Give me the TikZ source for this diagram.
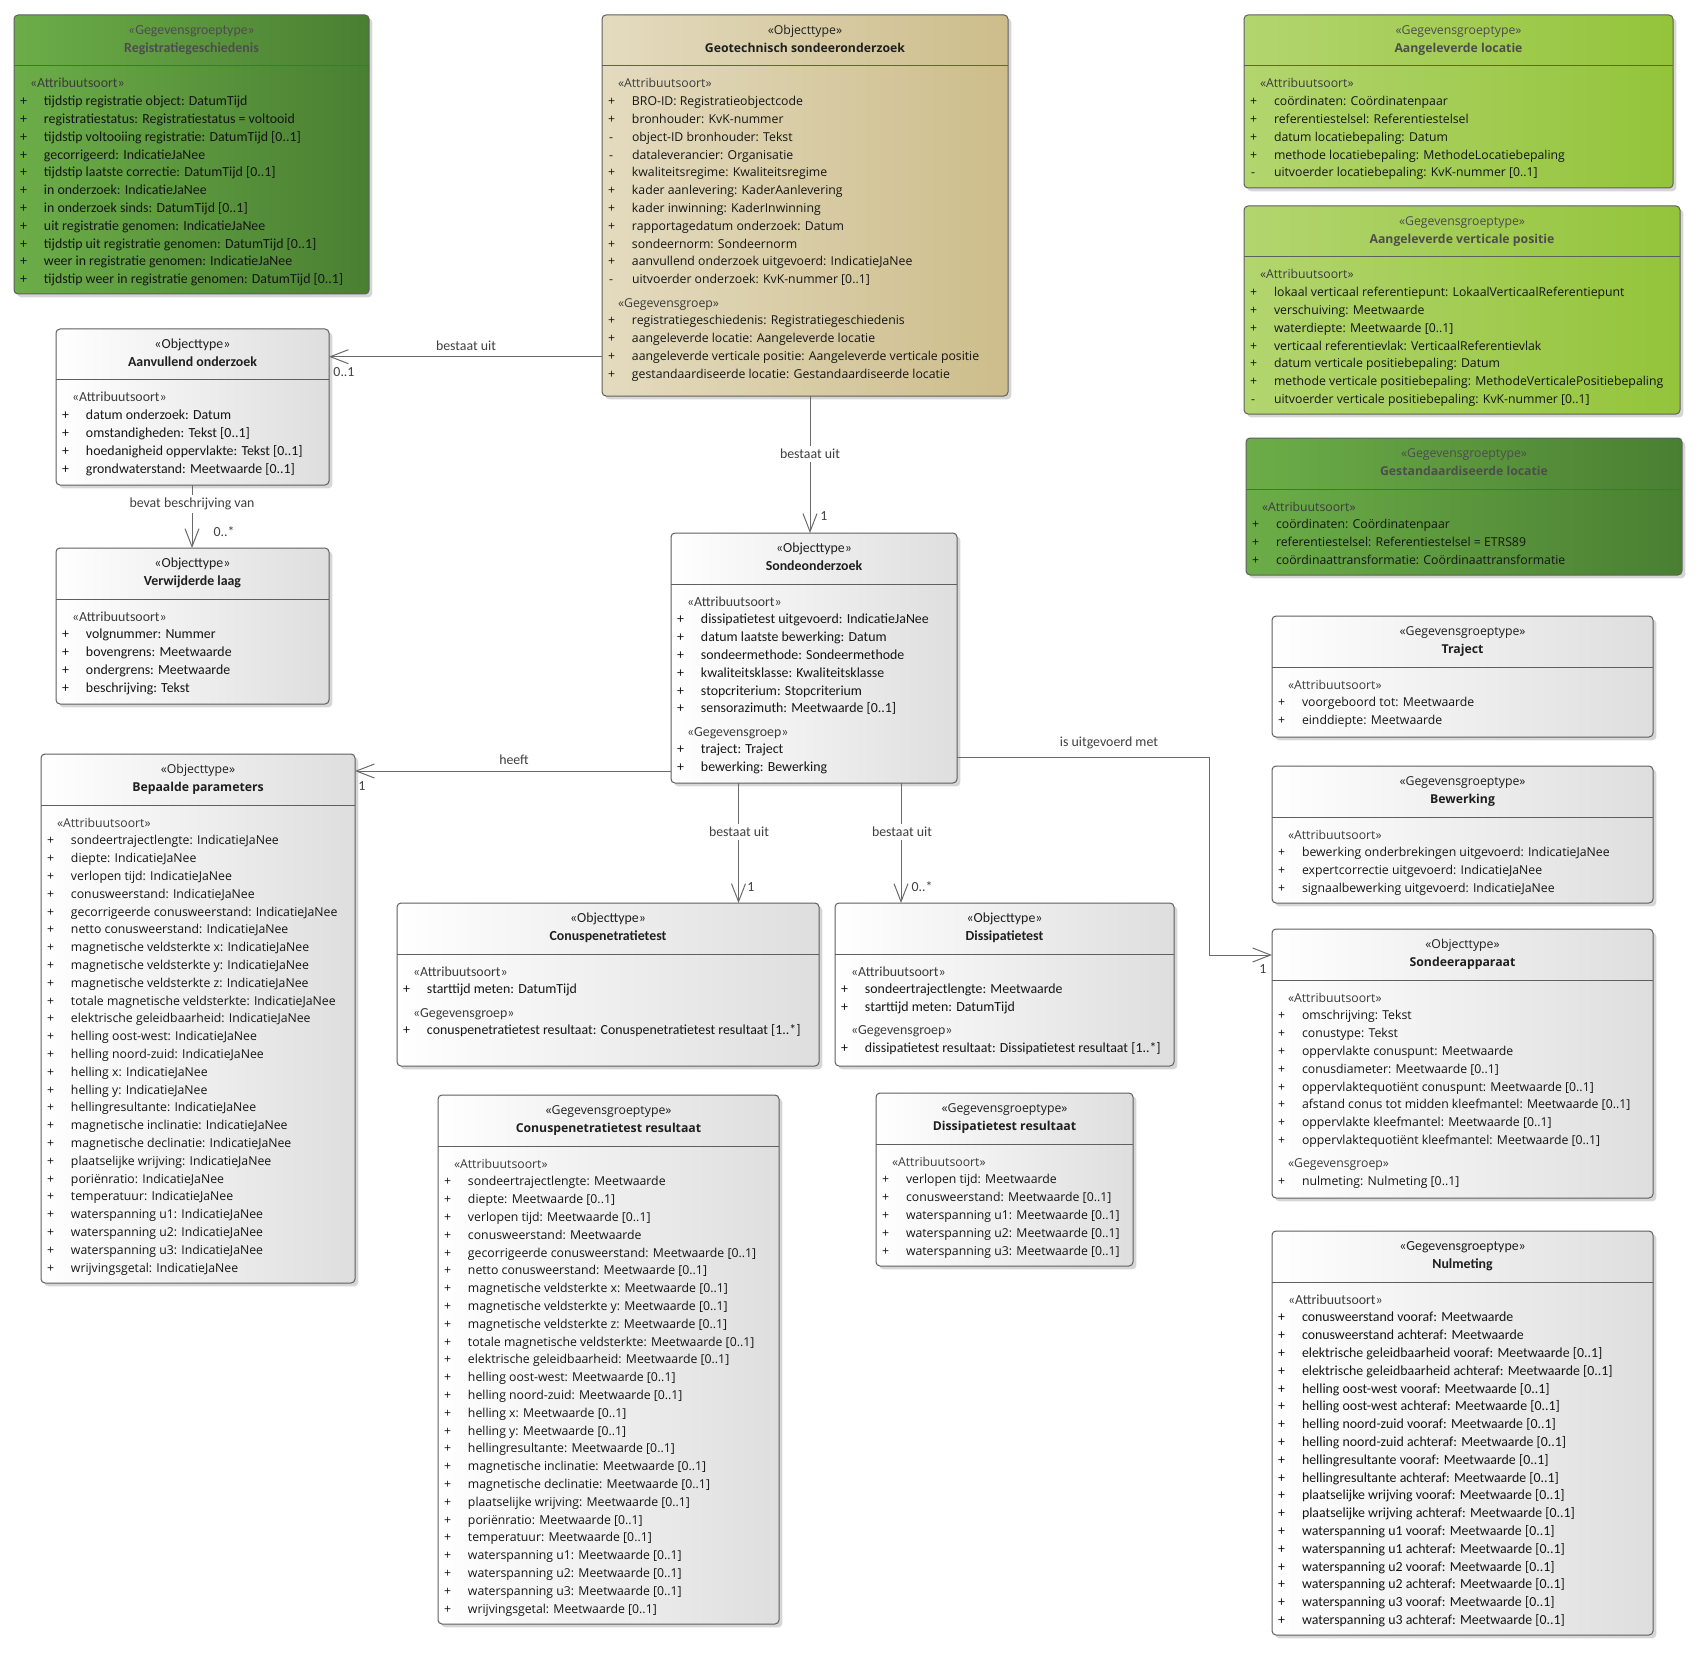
\documentclass[tikz,border=0pt]{standalone}
\usepackage{fontspec}
\setmainfont{Carlito}
\newfontfamily\segf{Open Sans}
\usetikzlibrary{arrows.meta,shadows}
\newdimen\pxu \pxu=0.75pt
\definecolor{bordc}{HTML}{5F5F5F}
\definecolor{linec}{HTML}{6A6A6A}
\definecolor{lblc}{HTML}{404040}
\definecolor{stc}{HTML}{3C3C3C}
\definecolor{bodyc}{HTML}{151515}
\definecolor{gAl}{HTML}{6CAD48}
\definecolor{gAr}{HTML}{4A7F32}
\definecolor{gBl}{HTML}{B3D56F}
\definecolor{gBr}{HTML}{93C43A}
\definecolor{tnl}{HTML}{E4DBBF}
\definecolor{tnr}{HTML}{CDBD8B}
\definecolor{wr}{HTML}{DEDEDE}
\definecolor{hdg}{HTML}{4D4D4D}
\newcommand\fcal{\fontsize{10.4}{12}\selectfont}
\newcommand\fseg{\segf\fontsize{9.2}{12}\selectfont}
\newcommand\PL[1]{\hbox{\hbox to 24\pxu{+\hfil}#1}}
\newcommand\MI[1]{\hbox{\hbox to 24\pxu{\kern1\pxu-\hfil}#1}}
\newcommand\ST[1]{\hbox{\kern10\pxu{\color{stc}«#1»}}}
\newcommand\GAP{\vskip5.5\pxu}
\newcommand\BODY[1]{\vtop{\baselineskip=17.8\pxu\lineskiplimit=-100pt\lineskip=0pt #1}}
\newcommand\HDR[2]{\vtop{\baselineskip=18\pxu\lineskiplimit=-100pt\lineskip=0pt\halign{\hfil##\hfil\cr«#1»\cr\textbf{#2}\cr}}}
\tikzset{
  umlbox/.style={draw=bordc,line width=0.75pt,rounded corners=3pt,inner sep=0pt,outer sep=0pt,
    drop shadow={shadow xshift=2.5pt,shadow yshift=-2.5pt,fill=black,opacity=0.16}},
  g1box/.style={left color=gAl,right color=gAr},
  g2box/.style={left color=gBl,right color=gBr},
  tanbox/.style={left color=tnl,right color=tnr},
  whbox/.style={left color=white,right color=wr},
  divl/.style={draw=bordc,line width=0.75pt},
  txt/.style={inner sep=0pt,outer sep=0pt,text=bodyc},
  cal/.style={font=\fcal},
  seg/.style={font=\fseg},
  hw/.style={text=black!88},
  hg/.style={text=hdg},
  conn/.style={draw=linec,line width=0.75pt},
  arr/.style={-{Straight Barb[length=13.5pt,width=10.5pt,line width=0.75pt]}},
  lbl/.style={font=\fcal,text=lblc,inner sep=1pt},
  onl/.style={fill=white,inner ysep=2pt}
}
\newcommand\UML[9]{%
  \node[umlbox,#6,minimum width={(#4-#2)*0.75pt},minimum height={(#5-#3)*0.75pt},anchor=north west] (#1) at (#2,#3) {};
  \draw[divl] ([yshift=-51\pxu]#1.north west) -- ([yshift=-51\pxu]#1.north east);
  \node[txt,#7,anchor=base] (#1-h) at ([yshift=-19.5\pxu]#1.north) {\HDR{#8}{#9}};
}
\begin{document}
\begin{tikzpicture}[x=0.75pt,y=-0.75pt]
\fill[white] (0,0) rectangle (1700,1655);
\useasboundingbox (0,0) rectangle (1700,1655);

\UML{reg}{14}{15}{369}{294}{g1box}{cal,hg}{Gegevensgroeptype}{Registratiegeschiedenis}
\UML{geo}{602}{15}{1008}{396}{tanbox}{seg,hw}{Objecttype}{Geotechnisch sondeeronderzoek}
\UML{al}{1244}{15}{1673}{188}{g2box}{seg,hg}{Gegevensgroeptype}{Aangeleverde locatie}
\UML{avp}{1244}{206}{1680}{414}{g2box}{seg,hg}{Gegevensgroeptype}{Aangeleverde verticale positie}
\UML{gl}{1246}{438}{1682}{575}{g1box}{seg,hg}{Gegevensgroeptype}{Gestandaardiseerde locatie}
\UML{ao}{56}{329}{329}{485}{whbox}{cal,hw}{Objecttype}{Aanvullend onderzoek}
\UML{vl}{56}{548}{329}{704}{whbox}{cal,hw}{Objecttype}{Verwijderde laag}
\UML{so}{671}{533}{957}{783}{whbox}{cal,hw}{Objecttype}{Sondeonderzoek}
\UML{bp}{41}{754}{355}{1283}{whbox}{seg,hw}{Objecttype}{Bepaalde parameters}
\UML{cpt}{397}{903}{819}{1066}{whbox}{cal,hw}{Objecttype}{Conuspenetratietest}
\UML{dt}{835}{903}{1174}{1066}{whbox}{cal,hw}{Objecttype}{Dissipatietest}
\UML{cptr}{438}{1095}{779}{1624}{whbox}{seg,hw}{Gegevensgroeptype}{Conuspenetratietest resultaat}
\UML{dtr}{876}{1093}{1133}{1266}{whbox}{seg,hw}{Gegevensgroeptype}{Dissipatietest resultaat}
\UML{tr}{1272}{616}{1653}{737}{whbox}{seg,hw}{Gegevensgroeptype}{Traject}
\UML{bw}{1272}{766}{1653}{903}{whbox}{seg,hw}{Gegevensgroeptype}{Bewerking}
\UML{sa}{1272}{929}{1653}{1198}{whbox}{seg,hw}{Objecttype}{Sondeerapparaat}
\UML{nm}{1272}{1231}{1653}{1635}{whbox}{cal,hw}{Gegevensgroeptype}{Nulmeting}

% bodies
\node[txt,cal,anchor=base west] (reg-b) at ([xshift=6\pxu,yshift=-73\pxu]reg.north west) {\BODY{%
\ST{Attribuutsoort}
\PL{tijdstip registratie object: DatumTijd}
\PL{registratiestatus: Registratiestatus = voltooid}
\PL{tijdstip voltooiing registratie: DatumTijd [0..1]}
\PL{gecorrigeerd: IndicatieJaNee}
\PL{tijdstip laatste correctie: DatumTijd [0..1]}
\PL{in onderzoek: IndicatieJaNee}
\PL{in onderzoek sinds: DatumTijd [0..1]}
\PL{uit registratie genomen: IndicatieJaNee}
\PL{tijdstip uit registratie genomen: DatumTijd [0..1]}
\PL{weer in registratie genomen: IndicatieJaNee}
\PL{tijdstip weer in registratie genomen: DatumTijd [0..1]}}};

\node[txt,seg,anchor=base west] (geo-b) at ([xshift=6\pxu,yshift=-73\pxu]geo.north west) {\BODY{%
\ST{Attribuutsoort}
\PL{BRO-ID: Registratieobjectcode}
\PL{bronhouder: KvK-nummer}
\MI{object-ID bronhouder: Tekst}
\MI{dataleverancier: Organisatie}
\PL{kwaliteitsregime: Kwaliteitsregime}
\PL{kader aanlevering: KaderAanlevering}
\PL{kader inwinning: KaderInwinning}
\PL{rapportagedatum onderzoek: Datum}
\PL{sondeernorm: Sondeernorm}
\PL{aanvullend onderzoek uitgevoerd: IndicatieJaNee}
\MI{uitvoerder onderzoek: KvK-nummer [0..1]}
\GAP
\ST{Gegevensgroep}
\PL{registratiegeschiedenis: Registratiegeschiedenis}
\PL{aangeleverde locatie: Aangeleverde locatie}
\PL{aangeleverde verticale positie: Aangeleverde verticale positie}
\PL{gestandaardiseerde locatie: Gestandaardiseerde locatie}}};

\node[txt,seg,anchor=base west] (al-b) at ([xshift=6\pxu,yshift=-73\pxu]al.north west) {\BODY{%
\ST{Attribuutsoort}
\PL{coördinaten: Coördinatenpaar}
\PL{referentiestelsel: Referentiestelsel}
\PL{datum locatiebepaling: Datum}
\PL{methode locatiebepaling: MethodeLocatiebepaling}
\MI{uitvoerder locatiebepaling: KvK-nummer [0..1]}}};

\node[txt,seg,anchor=base west] (avp-b) at ([xshift=6\pxu,yshift=-73\pxu]avp.north west) {\BODY{%
\ST{Attribuutsoort}
\PL{lokaal verticaal referentiepunt: LokaalVerticaalReferentiepunt}
\PL{verschuiving: Meetwaarde}
\PL{waterdiepte: Meetwaarde [0..1]}
\PL{verticaal referentievlak: VerticaalReferentievlak}
\PL{datum verticale positiebepaling: Datum}
\PL{methode verticale positiebepaling: MethodeVerticalePositiebepaling}
\MI{uitvoerder verticale positiebepaling: KvK-nummer [0..1]}}};

\node[txt,seg,anchor=base west] (gl-b) at ([xshift=6\pxu,yshift=-73\pxu]gl.north west) {\BODY{%
\ST{Attribuutsoort}
\PL{coördinaten: Coördinatenpaar}
\PL{referentiestelsel: Referentiestelsel = ETRS89}
\PL{coördinaattransformatie: Coördinaattransformatie}}};

\node[txt,cal,anchor=base west] (ao-b) at ([xshift=6\pxu,yshift=-73\pxu]ao.north west) {\BODY{%
\ST{Attribuutsoort}
\PL{datum onderzoek: Datum}
\PL{omstandigheden: Tekst [0..1]}
\PL{hoedanigheid oppervlakte: Tekst [0..1]}
\PL{grondwaterstand: Meetwaarde [0..1]}}};

\node[txt,cal,anchor=base west] (vl-b) at ([xshift=6\pxu,yshift=-73\pxu]vl.north west) {\BODY{%
\ST{Attribuutsoort}
\PL{volgnummer: Nummer}
\PL{bovengrens: Meetwaarde}
\PL{ondergrens: Meetwaarde}
\PL{beschrijving: Tekst}}};

\node[txt,cal,anchor=base west] (so-b) at ([xshift=6\pxu,yshift=-73\pxu]so.north west) {\BODY{%
\ST{Attribuutsoort}
\PL{dissipatietest uitgevoerd: IndicatieJaNee}
\PL{datum laatste bewerking: Datum}
\PL{sondeermethode: Sondeermethode}
\PL{kwaliteitsklasse: Kwaliteitsklasse}
\PL{stopcriterium: Stopcriterium}
\PL{sensorazimuth: Meetwaarde [0..1]}
\GAP
\ST{Gegevensgroep}
\PL{traject: Traject}
\PL{bewerking: Bewerking}}};

\node[txt,seg,anchor=base west] (bp-b) at ([xshift=6\pxu,yshift=-73\pxu]bp.north west) {\BODY{%
\ST{Attribuutsoort}
\PL{sondeertrajectlengte: IndicatieJaNee}
\PL{diepte: IndicatieJaNee}
\PL{verlopen tijd: IndicatieJaNee}
\PL{conusweerstand: IndicatieJaNee}
\PL{gecorrigeerde conusweerstand: IndicatieJaNee}
\PL{netto conusweerstand: IndicatieJaNee}
\PL{magnetische veldsterkte x: IndicatieJaNee}
\PL{magnetische veldsterkte y: IndicatieJaNee}
\PL{magnetische veldsterkte z: IndicatieJaNee}
\PL{totale magnetische veldsterkte: IndicatieJaNee}
\PL{elektrische geleidbaarheid: IndicatieJaNee}
\PL{helling oost-west: IndicatieJaNee}
\PL{helling noord-zuid: IndicatieJaNee}
\PL{helling x: IndicatieJaNee}
\PL{helling y: IndicatieJaNee}
\PL{hellingresultante: IndicatieJaNee}
\PL{magnetische inclinatie: IndicatieJaNee}
\PL{magnetische declinatie: IndicatieJaNee}
\PL{plaatselijke wrijving: IndicatieJaNee}
\PL{poriënratio: IndicatieJaNee}
\PL{temperatuur: IndicatieJaNee}
\PL{waterspanning u1: IndicatieJaNee}
\PL{waterspanning u2: IndicatieJaNee}
\PL{waterspanning u3: IndicatieJaNee}
\PL{wrijvingsgetal: IndicatieJaNee}}};

\node[txt,cal,anchor=base west] (cpt-b) at ([xshift=6\pxu,yshift=-73\pxu]cpt.north west) {\BODY{%
\ST{Attribuutsoort}
\PL{starttijd meten: DatumTijd}
\GAP
\ST{Gegevensgroep}
\PL{conuspenetratietest resultaat: Conuspenetratietest resultaat [1..*]}}};

\node[txt,cal,anchor=base west] (dt-b) at ([xshift=6\pxu,yshift=-73\pxu]dt.north west) {\BODY{%
\ST{Attribuutsoort}
\PL{sondeertrajectlengte: Meetwaarde}
\PL{starttijd meten: DatumTijd}
\GAP
\ST{Gegevensgroep}
\PL{dissipatietest resultaat: Dissipatietest resultaat [1..*]}}};

\node[txt,seg,anchor=base west] (cptr-b) at ([xshift=6\pxu,yshift=-73\pxu]cptr.north west) {\BODY{%
\ST{Attribuutsoort}
\PL{sondeertrajectlengte: Meetwaarde}
\PL{diepte: Meetwaarde [0..1]}
\PL{verlopen tijd: Meetwaarde [0..1]}
\PL{conusweerstand: Meetwaarde}
\PL{gecorrigeerde conusweerstand: Meetwaarde [0..1]}
\PL{netto conusweerstand: Meetwaarde [0..1]}
\PL{magnetische veldsterkte x: Meetwaarde [0..1]}
\PL{magnetische veldsterkte y: Meetwaarde [0..1]}
\PL{magnetische veldsterkte z: Meetwaarde [0..1]}
\PL{totale magnetische veldsterkte: Meetwaarde [0..1]}
\PL{elektrische geleidbaarheid: Meetwaarde [0..1]}
\PL{helling oost-west: Meetwaarde [0..1]}
\PL{helling noord-zuid: Meetwaarde [0..1]}
\PL{helling x: Meetwaarde [0..1]}
\PL{helling y: Meetwaarde [0..1]}
\PL{hellingresultante: Meetwaarde [0..1]}
\PL{magnetische inclinatie: Meetwaarde [0..1]}
\PL{magnetische declinatie: Meetwaarde [0..1]}
\PL{plaatselijke wrijving: Meetwaarde [0..1]}
\PL{poriënratio: Meetwaarde [0..1]}
\PL{temperatuur: Meetwaarde [0..1]}
\PL{waterspanning u1: Meetwaarde [0..1]}
\PL{waterspanning u2: Meetwaarde [0..1]}
\PL{waterspanning u3: Meetwaarde [0..1]}
\PL{wrijvingsgetal: Meetwaarde [0..1]}}};

\node[txt,seg,anchor=base west] (dtr-b) at ([xshift=6\pxu,yshift=-73\pxu]dtr.north west) {\BODY{%
\ST{Attribuutsoort}
\PL{verlopen tijd: Meetwaarde}
\PL{conusweerstand: Meetwaarde [0..1]}
\PL{waterspanning u1: Meetwaarde [0..1]}
\PL{waterspanning u2: Meetwaarde [0..1]}
\PL{waterspanning u3: Meetwaarde [0..1]}}};

\node[txt,seg,anchor=base west] (tr-b) at ([xshift=6\pxu,yshift=-73\pxu]tr.north west) {\BODY{%
\ST{Attribuutsoort}
\PL{voorgeboord tot: Meetwaarde}
\PL{einddiepte: Meetwaarde}}};

\node[txt,seg,anchor=base west] (bw-b) at ([xshift=6\pxu,yshift=-73\pxu]bw.north west) {\BODY{%
\ST{Attribuutsoort}
\PL{bewerking onderbrekingen uitgevoerd: IndicatieJaNee}
\PL{expertcorrectie uitgevoerd: IndicatieJaNee}
\PL{signaalbewerking uitgevoerd: IndicatieJaNee}}};

\node[txt,seg,anchor=base west] (sa-b) at ([xshift=6\pxu,yshift=-73\pxu]sa.north west) {\BODY{%
\ST{Attribuutsoort}
\PL{omschrijving: Tekst}
\PL{conustype: Tekst}
\PL{oppervlakte conuspunt: Meetwaarde}
\PL{conusdiameter: Meetwaarde [0..1]}
\PL{oppervlaktequotiënt conuspunt: Meetwaarde [0..1]}
\PL{afstand conus tot midden kleefmantel: Meetwaarde [0..1]}
\PL{oppervlakte kleefmantel: Meetwaarde [0..1]}
\PL{oppervlaktequotiënt kleefmantel: Meetwaarde [0..1]}
\GAP
\ST{Gegevensgroep}
\PL{nulmeting: Nulmeting [0..1]}}};

\node[txt,cal,anchor=base west] (nm-b) at ([xshift=6\pxu,yshift=-73\pxu]nm.north west) {\BODY{%
\ST{Attribuutsoort}
\PL{conusweerstand vooraf: Meetwaarde}
\PL{conusweerstand achteraf: Meetwaarde}
\PL{elektrische geleidbaarheid vooraf: Meetwaarde [0..1]}
\PL{elektrische geleidbaarheid achteraf: Meetwaarde [0..1]}
\PL{helling oost-west vooraf: Meetwaarde [0..1]}
\PL{helling oost-west achteraf: Meetwaarde [0..1]}
\PL{helling noord-zuid vooraf: Meetwaarde [0..1]}
\PL{helling noord-zuid achteraf: Meetwaarde [0..1]}
\PL{hellingresultante vooraf: Meetwaarde [0..1]}
\PL{hellingresultante achteraf: Meetwaarde [0..1]}
\PL{plaatselijke wrijving vooraf: Meetwaarde [0..1]}
\PL{plaatselijke wrijving achteraf: Meetwaarde [0..1]}
\PL{waterspanning u1 vooraf: Meetwaarde [0..1]}
\PL{waterspanning u1 achteraf: Meetwaarde [0..1]}
\PL{waterspanning u2 vooraf: Meetwaarde [0..1]}
\PL{waterspanning u2 achteraf: Meetwaarde [0..1]}
\PL{waterspanning u3 vooraf: Meetwaarde [0..1]}
\PL{waterspanning u3 achteraf: Meetwaarde [0..1]}}};

% connectors
\draw[conn,arr] (geo.west |- 0,356.7) -- (ao.east |- 0,356.7);
\node[lbl] (l1) at (466,346) {bestaat uit};
\node[lbl] (m1) at (344,372) {0..1};

\draw[conn,arr] (192,0 |- ao.south) -- (192,0 |- vl.north);
\node[lbl,onl] (l2) at (192,504) {bevat beschrijving van};
\node[lbl] (m2) at (224,532) {0..*};

\draw[conn,arr] (810,0 |- geo.south) -- (810,0 |- so.north);
\node[lbl,onl] (l3) at (810,454) {bestaat uit};
\node[lbl] (m3) at (824,516) {1};

\draw[conn,arr] (so.west |- 0,771) -- (bp.east |- 0,771);
\node[lbl] (l4) at (514,760) {heeft};
\node[lbl] (m4) at (362,786) {1};

\draw[conn,arr] (738.5,0 |- so.south) -- (738.5,0 |- cpt.north);
\node[lbl,onl] (l5) at (739,832) {bestaat uit};
\node[lbl] (m5) at (751,887) {1};

\draw[conn,arr] (901,0 |- so.south) -- (901,0 |- dt.north);
\node[lbl,onl] (l6) at (902,832) {bestaat uit};
\node[lbl] (m6) at (922,887) {0..*};

\draw[conn,arr] (so.east |- 0,757) -| (1209,955) -- (sa.west |- 0,955);
\node[lbl] (l7) at (1109,743) {is uitgevoerd met};
\node[lbl] (m7) at (1263,969) {1};
\end{tikzpicture}
\end{document}
